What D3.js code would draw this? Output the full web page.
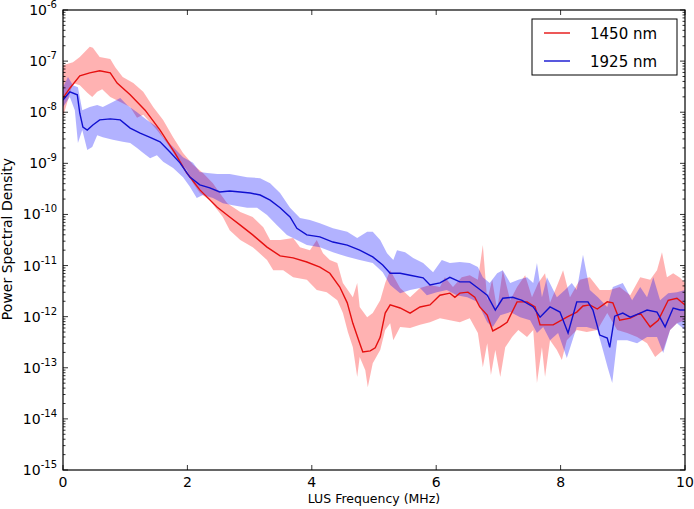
<!DOCTYPE html>
<html><head><meta charset="utf-8">
<script src="https://cdn.jsdelivr.net/npm/d3@7"></script>
<style>body{margin:0;background:#fff}svg{font-family:"DejaVu Sans",sans-serif}</style>
</head><body><svg id="c" width="694" height="509"></svg>
<script>
// Frequency in MHz, PSD stored as log10 exponent
const redX    = [0.00,0.11,0.27,0.43,0.59,0.76,0.87,1.08,1.32,1.56,1.80,1.99,2.20,2.48,2.68,2.85,3.05,3.28,3.49,3.70,3.92,4.13,4.29,4.45,4.57,4.66,4.77,4.82,4.94,5.02,5.10,5.18,5.26,5.42,5.58,5.74,5.90,6.06,6.22,6.30,6.38,6.51,6.62,6.70,6.82,6.91,7.03,7.14,7.30,7.46,7.59,7.67,7.88,8.10,8.26,8.36,8.47,8.59,8.75,8.84,8.95,9.12,9.28,9.44,9.57,9.73,9.87,10.00];
const redMean = [-7.72,-7.53,-7.29,-7.23,-7.19,-7.23,-7.43,-7.66,-7.96,-8.35,-8.80,-9.19,-9.52,-9.86,-10.05,-10.21,-10.40,-10.64,-10.81,-10.85,-10.93,-11.03,-11.15,-11.42,-11.73,-12.13,-12.52,-12.69,-12.67,-12.61,-12.40,-11.93,-11.77,-11.83,-11.93,-11.81,-11.77,-11.58,-11.54,-11.62,-11.54,-11.52,-11.62,-11.81,-11.97,-12.28,-12.20,-12.11,-11.71,-11.71,-11.81,-12.16,-12.16,-12.01,-11.91,-11.79,-11.77,-11.85,-11.71,-11.73,-12.07,-12.03,-11.93,-12.20,-12.07,-11.68,-11.64,-11.77];

const redUpX  = [0.00,0.16,0.27,0.43,0.48,0.59,0.76,0.84,0.96,1.13,1.29,1.45,1.61,1.77,1.93,2.09,2.25,2.41,2.52,2.64,2.85,3.05,3.22,3.33,3.49,3.70,3.81,3.97,4.08,4.18,4.29,4.41,4.50,4.66,4.73,4.77,4.89,4.98,5.10,5.18,5.26,5.42,5.58,5.74,5.90,6.06,6.14,6.27,6.41,6.54,6.67,6.75,6.82,6.90,6.98,7.07,7.19,7.30,7.43,7.54,7.64,7.75,7.83,7.96,8.04,8.15,8.31,8.47,8.63,8.79,8.95,9.12,9.28,9.44,9.55,9.63,9.71,9.81,9.92,10.00];
const redUp   = [-7.08,-7.02,-6.92,-6.72,-6.74,-6.92,-6.96,-7.12,-7.31,-7.43,-7.60,-7.90,-8.15,-8.49,-8.80,-9.03,-9.19,-9.39,-9.58,-9.78,-9.95,-10.05,-10.25,-10.50,-10.50,-10.46,-10.64,-10.70,-10.50,-10.76,-10.89,-10.95,-11.34,-11.62,-11.34,-11.81,-12.01,-11.93,-11.68,-11.34,-11.09,-11.44,-11.62,-11.44,-11.38,-11.42,-11.23,-11.42,-11.23,-11.19,-11.28,-10.60,-11.68,-11.28,-11.87,-11.09,-11.68,-11.42,-11.19,-11.62,-11.34,-11.15,-11.73,-11.34,-11.09,-11.62,-11.28,-11.23,-11.48,-11.48,-11.42,-11.58,-11.23,-11.28,-11.09,-10.74,-11.23,-11.15,-11.24,-11.34];
const redLoX  = [0.00,0.16,0.27,0.39,0.47,0.55,0.63,0.76,0.92,1.08,1.19,1.29,1.51,1.67,1.83,1.99,2.09,2.20,2.36,2.57,2.68,2.85,3.05,3.28,3.38,3.54,3.70,3.92,4.08,4.24,4.41,4.50,4.58,4.66,4.73,4.77,4.86,4.90,4.98,5.10,5.18,5.26,5.31,5.42,5.58,5.74,5.90,6.06,6.22,6.38,6.54,6.67,6.75,6.82,6.88,6.95,7.03,7.11,7.22,7.32,7.46,7.56,7.62,7.70,7.75,7.83,7.94,8.02,8.10,8.26,8.42,8.59,8.75,8.91,9.07,9.23,9.39,9.52,9.65,9.76,9.87,10.00];
const redLo   = [-8.09,-7.43,-7.47,-7.62,-7.70,-7.60,-7.55,-7.70,-7.80,-7.90,-8.11,-8.05,-8.35,-8.60,-8.90,-9.13,-9.39,-9.58,-9.72,-10.05,-10.31,-10.50,-10.64,-10.89,-11.09,-11.09,-11.23,-11.28,-11.48,-11.52,-11.68,-11.93,-12.30,-12.60,-13.18,-12.79,-13.05,-13.38,-12.91,-12.65,-12.26,-12.13,-12.46,-12.20,-12.22,-12.16,-12.11,-12.03,-12.07,-12.11,-12.03,-12.32,-12.99,-12.52,-13.14,-12.65,-13.18,-12.60,-12.40,-12.26,-12.40,-12.26,-13.30,-12.60,-13.18,-12.46,-12.65,-12.85,-12.46,-12.26,-12.30,-12.26,-11.93,-12.26,-12.32,-12.40,-12.52,-12.79,-12.65,-12.26,-12.13,-12.07];

const blueX    = [0.00,0.11,0.23,0.27,0.32,0.39,0.48,0.59,0.76,0.92,1.08,1.24,1.40,1.56,1.72,1.88,2.04,2.20,2.36,2.52,2.68,2.85,3.01,3.17,3.33,3.49,3.65,3.76,3.92,4.13,4.34,4.57,4.77,4.98,5.14,5.26,5.42,5.58,5.79,5.90,6.06,6.22,6.38,6.54,6.67,6.82,6.95,7.07,7.23,7.38,7.56,7.67,7.83,7.99,8.12,8.26,8.44,8.52,8.63,8.75,8.79,8.87,9.00,9.12,9.28,9.39,9.55,9.68,9.81,9.92,10.00];
const blueMean = [-7.76,-7.60,-7.66,-8.02,-8.29,-8.35,-8.25,-8.15,-8.13,-8.15,-8.31,-8.41,-8.49,-8.58,-8.78,-8.99,-9.27,-9.42,-9.48,-9.56,-9.54,-9.56,-9.58,-9.62,-9.72,-9.87,-10.05,-10.27,-10.40,-10.44,-10.54,-10.60,-10.70,-10.83,-10.99,-11.15,-11.15,-11.19,-11.24,-11.38,-11.34,-11.23,-11.32,-11.32,-11.44,-11.58,-11.87,-11.64,-11.62,-11.68,-11.81,-12.01,-11.81,-11.91,-12.32,-11.71,-11.71,-11.87,-12.36,-12.42,-12.60,-11.99,-11.93,-12.01,-11.93,-11.87,-11.91,-12.20,-11.83,-11.87,-11.87];

const blueUpX = [0.00,0.08,0.16,0.24,0.31,0.43,0.55,0.64,0.80,0.92,1.03,1.19,1.35,1.51,1.61,1.77,1.93,2.09,2.20,2.32,2.48,2.68,2.96,3.17,3.33,3.49,3.65,3.81,3.97,4.13,4.34,4.57,4.73,4.89,4.98,5.10,5.21,5.31,5.37,5.50,5.63,5.79,5.95,6.09,6.22,6.38,6.54,6.67,6.75,6.86,6.98,7.07,7.19,7.32,7.46,7.56,7.62,7.70,7.78,7.94,8.07,8.18,8.26,8.36,8.47,8.60,8.75,8.84,9.00,9.15,9.28,9.39,9.49,9.60,9.73,9.87,10.00];
const blueUp  = [-7.51,-7.31,-7.47,-7.51,-7.96,-7.90,-7.86,-7.90,-7.80,-7.72,-7.86,-8.00,-8.15,-8.29,-8.49,-8.68,-8.88,-8.99,-9.17,-9.19,-9.21,-9.21,-9.27,-9.29,-9.39,-9.58,-9.87,-10.07,-10.11,-10.17,-10.27,-10.34,-10.46,-10.34,-10.34,-10.50,-10.76,-10.89,-10.70,-10.74,-10.85,-10.95,-11.13,-10.89,-10.95,-10.93,-10.95,-11.03,-11.23,-11.34,-11.15,-11.09,-11.34,-11.28,-11.23,-11.34,-10.95,-11.62,-11.23,-11.62,-11.48,-11.34,-11.48,-10.79,-11.48,-11.62,-11.81,-11.42,-11.34,-11.68,-11.42,-11.62,-11.23,-11.68,-11.54,-11.52,-11.48];
const blueLoX = [0.00,0.11,0.19,0.24,0.31,0.39,0.47,0.55,0.64,0.80,0.96,1.08,1.19,1.29,1.40,1.51,1.61,1.77,1.93,2.04,2.15,2.25,2.41,2.57,2.73,2.96,3.12,3.28,3.44,3.60,3.76,3.92,4.13,4.34,4.57,4.77,4.98,5.14,5.26,5.42,5.58,5.74,5.85,6.01,6.17,6.33,6.50,6.66,6.82,6.91,7.03,7.19,7.35,7.51,7.62,7.72,7.83,7.96,8.10,8.26,8.42,8.59,8.68,8.76,8.83,8.91,9.07,9.23,9.39,9.55,9.65,9.76,9.87,10.00];
const blueLo  = [-7.90,-7.70,-7.96,-8.60,-8.35,-8.74,-8.68,-8.45,-8.49,-8.54,-8.58,-8.60,-8.70,-8.80,-8.90,-8.84,-8.97,-9.09,-9.27,-9.46,-9.68,-9.62,-9.68,-9.78,-9.82,-9.87,-9.87,-10.01,-10.21,-10.40,-10.50,-10.60,-10.64,-10.74,-10.83,-10.89,-10.95,-11.13,-11.38,-11.54,-11.48,-11.44,-11.58,-11.52,-11.48,-11.58,-11.62,-11.71,-12.11,-12.20,-11.97,-11.91,-12.01,-12.07,-12.32,-12.20,-12.46,-12.32,-12.81,-12.20,-12.20,-12.26,-12.65,-13.01,-13.30,-12.46,-12.46,-12.52,-12.40,-12.40,-12.71,-12.26,-12.13,-12.26];

const xTicks = [0,2,4,6,8,10];
const yTickExp = [-15,-14,-13,-12,-11,-10,-9,-8,-7,-6];
const legendLabels = ["1450 nm","1925 nm"];

const W = 694, H = 509;
const m = {l:63, r:9, t:10, b:39};
const svg = d3.select("#c");
const x = d3.scaleLinear().domain([0,10]).range([m.l, W-m.r]);
const y = d3.scaleLog().domain([1e-15,1e-6]).range([H-m.b, m.t]);

const pts = (xs, es) => xs.map((v,i)=>[v, Math.pow(10, es[i])]);
const line = d3.line().x(d=>x(d[0])).y(d=>y(d[1]));
const band = (ux,u,lx,l) => line(pts(ux,u).concat(pts(lx,l).reverse())) + "Z";

const clip = svg.append("clipPath").attr("id","pc").append("rect")
  .attr("x",m.l).attr("y",m.t).attr("width",W-m.l-m.r).attr("height",H-m.t-m.b);
const g = svg.append("g").attr("clip-path","url(#pc)");

g.append("path").attr("d", band(redUpX,redUp,redLoX,redLo)).attr("fill","#ff0000").attr("fill-opacity",0.3).attr("stroke","none");
g.append("path").attr("d", band(blueUpX,blueUp,blueLoX,blueLo)).attr("fill","#0000ff").attr("fill-opacity",0.3).attr("stroke","none");
g.append("path").attr("d", line(pts(redX,redMean))).attr("fill","none").attr("stroke","#e61010").attr("stroke-width",1.4);
g.append("path").attr("d", line(pts(blueX,blueMean))).attr("fill","none").attr("stroke","#1010d0").attr("stroke-width",1.4);

// frame
svg.append("rect").attr("x",m.l).attr("y",m.t).attr("width",W-m.l-m.r).attr("height",H-m.t-m.b)
  .attr("fill","none").attr("stroke","#000").attr("stroke-width",1.2);

// x ticks (inward, bottom and top)
const tk = svg.append("g").attr("stroke","#000").attr("stroke-width",0.8);
xTicks.forEach(t=>{
  tk.append("line").attr("x1",x(t)).attr("x2",x(t)).attr("y1",H-m.b).attr("y2",H-m.b-5);
  tk.append("line").attr("x1",x(t)).attr("x2",x(t)).attr("y1",m.t).attr("y2",m.t+5);
  svg.append("text").attr("x",x(t)).attr("y",H-m.b+17).attr("text-anchor","middle")
    .attr("font-size",14).text(t);
});
// y ticks major + minor
yTickExp.forEach(e=>{
  const v = Math.pow(10,e);
  tk.append("line").attr("x1",m.l).attr("x2",m.l+5).attr("y1",y(v)).attr("y2",y(v));
  tk.append("line").attr("x1",W-m.r).attr("x2",W-m.r-5).attr("y1",y(v)).attr("y2",y(v));
  const t = svg.append("text").attr("x",m.l-6).attr("y",y(v)+5).attr("text-anchor","end").attr("font-size",14);
  t.append("tspan").text("10");
  t.append("tspan").attr("font-size",10).attr("dy",-7).text(String(e));
  if (e < -6) for (let k=2;k<10;k++){
    const mv = k*v;
    tk.append("line").attr("x1",m.l).attr("x2",m.l+2.5).attr("y1",y(mv)).attr("y2",y(mv));
    tk.append("line").attr("x1",W-m.r).attr("x2",W-m.r-2.5).attr("y1",y(mv)).attr("y2",y(mv));
  }
});

// axis labels
svg.append("text").attr("x",(m.l+W-m.r)/2).attr("y",503).attr("text-anchor","middle")
  .attr("font-size",12.5).text("LUS Frequency (MHz)");
svg.append("text").attr("transform",`translate(12,239) rotate(-90)`)
  .attr("text-anchor","middle").attr("font-size",14).text("Power Spectral Density");

// legend
const lg = svg.append("g");
lg.append("rect").attr("x",532).attr("y",19).attr("width",145).attr("height",56)
  .attr("fill","#fff").attr("stroke","#000").attr("stroke-width",1);
const cols = ["#e61010","#1010d0"];
legendLabels.forEach((s,i)=>{
  const yy = 33 + i*28;
  lg.append("line").attr("x1",544).attr("x2",570).attr("y1",yy).attr("y2",yy).attr("stroke",cols[i]).attr("stroke-width",1.4);
  lg.append("text").attr("x",590).attr("y",yy+5.5).attr("font-size",15).text(s);
});
</script></body></html>
